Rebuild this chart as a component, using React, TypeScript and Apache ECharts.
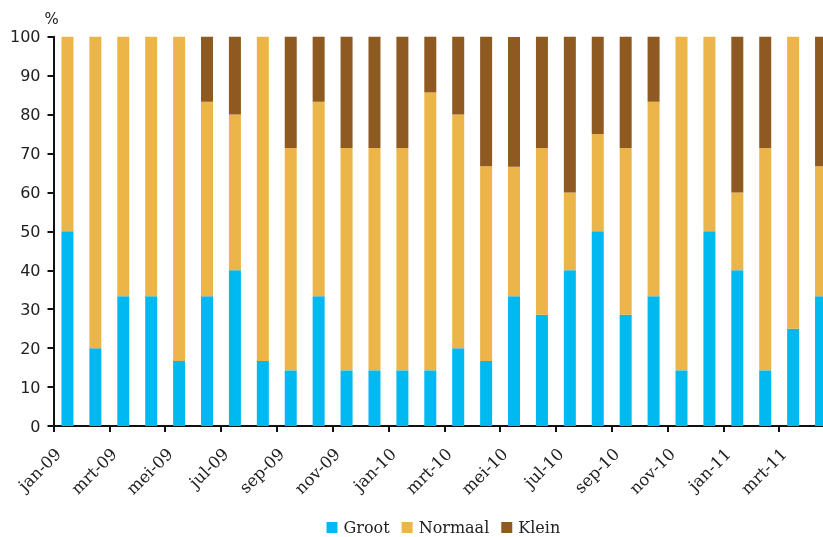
import React, { useEffect, useRef } from "react";
import * as echarts from "echarts";

const categories = [
  "jan-09", "feb-09", "mrt-09", "apr-09", "mei-09", "jun-09", "jul-09", "aug-09", "sep-09", "okt-09", "nov-09", "dec-09",
  "jan-10", "feb-10", "mrt-10", "apr-10", "mei-10", "jun-10", "jul-10", "aug-10", "sep-10", "okt-10", "nov-10", "dec-10",
  "jan-11", "feb-11", "mrt-11", "apr-11",
];
const groot = [50, 20, 33.3, 33.3, 16.7, 33.3, 40, 16.7, 14.3, 33.3, 14.3, 14.3, 14.3, 14.3, 20, 16.7, 33.3, 28.6, 40, 50, 28.6, 33.3, 14.3, 50, 40, 14.3, 25, 33.3];
const normaal = [50, 80, 66.7, 66.7, 83.3, 50, 40, 83.3, 57.1, 50, 57.1, 57.1, 57.1, 71.4, 60, 50, 33.3, 42.8, 20, 25, 42.8, 50, 85.7, 50, 20, 57.1, 75, 33.4];
const klein = [0, 0, 0, 0, 0, 16.7, 20, 0, 28.6, 16.7, 28.6, 28.6, 28.6, 14.3, 20, 33.3, 33.3, 28.6, 40, 25, 28.6, 16.7, 0, 0, 40, 28.6, 0, 33.3];
const seriesNames = ["Groot", "Normaal", "Klein"];
const colors = ["#00B9F1", "#ECB54A", "#8F5A22"];

const CHART_W = 860;

export default function App() {
  const ref = useRef<HTMLDivElement>(null);
  useEffect(() => {
    if (!ref.current) return;
    const chart = echarts.init(ref.current, null, { renderer: "svg" });
    const values = [groot, normaal, klein];
    chart.setOption({
      animation: false,
      color: colors,
      grid: { left: 53.5, right: CHART_W - 835, top: 36.7, bottom: 111 },
      legend: {
        top: 519.5,
        left: 326.5,
        padding: 0,
        itemWidth: 11,
        itemHeight: 11,
        itemGap: 12,
        icon: "rect",
        textStyle: { fontFamily: "DejaVu Serif", fontSize: 16, lineHeight: 14, color: "#222", padding: [0, 0, 0, 1] },
        data: seriesNames,
      },
      xAxis: {
        type: "category",
        data: categories,
        boundaryGap: true,
        axisLine: { show: true, lineStyle: { color: "#111", width: 2 } },
        axisTick: {
          show: true,
          alignWithLabel: false,
          interval: (index: number) => index % 2 === 0,
          length: 6,
          inside: false,
          lineStyle: { color: "#111", width: 2 },
        },
        axisLabel: {
          interval: 1,
          rotate: 45,
          margin: 16,
          fontFamily: "DejaVu Serif",
          fontSize: 16.5,
          color: "#222",
          padding: [0, 13, 0, 0],
        },
      },
      yAxis: {
        type: "value",
        min: 0,
        max: 100,
        interval: 10,
        name: "%",
        nameLocation: "end",
        nameGap: 10,
        nameTextStyle: { fontFamily: "DejaVu Sans", fontSize: 15, color: "#222", align: "center", padding: [0, 4, 0, 0] },
        splitLine: { show: false },
        axisLine: { show: true, lineStyle: { color: "#111", width: 2 } },
        axisTick: { show: true, length: 6, lineStyle: { color: "#111", width: 2 } },
        axisLabel: { margin: 13, fontFamily: "DejaVu Sans", fontSize: 16, color: "#222" },
      },
      series: seriesNames.map((name, i) => ({
        name,
        type: "bar",
        stack: "total",
        barWidth: 12,
        data: values[i],
        itemStyle: { color: colors[i] },
      })),
    });
    return () => chart.dispose();
  }, []);
  return (
    <div style={{ position: "fixed", left: 0, top: 0, width: 823, height: 537, overflow: "hidden" }}>
      <div ref={ref} style={{ width: CHART_W, height: 537 }} />
    </div>
  );
}
